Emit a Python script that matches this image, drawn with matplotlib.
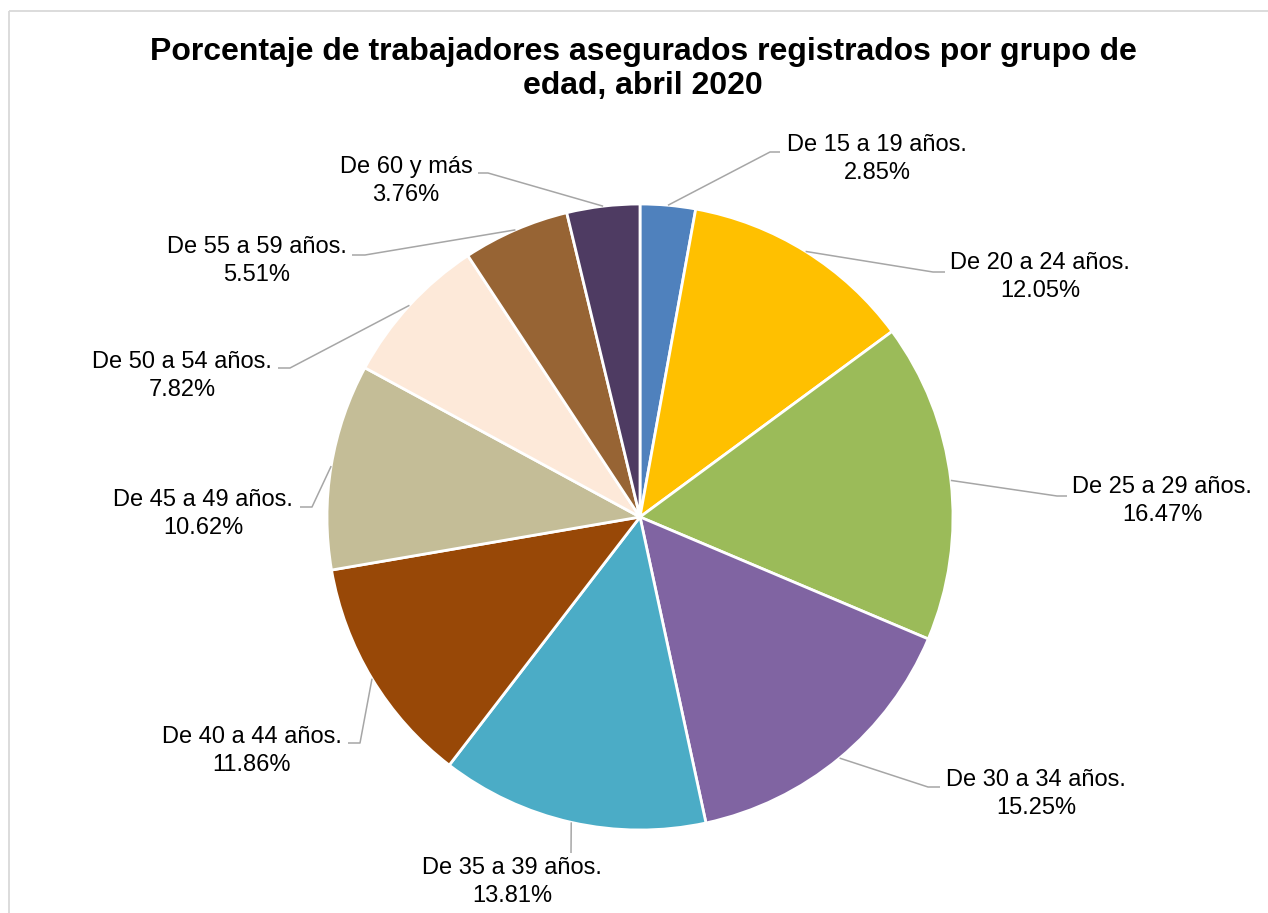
import matplotlib.pyplot as plt
import numpy as np
from matplotlib.patches import Rectangle

# data
grupos = ["De 15 a 19 años.", "De 20 a 24 años.", "De 25 a 29 años.", "De 30 a 34 años.",
          "De 35 a 39 años.", "De 40 a 44 años.", "De 45 a 49 años.", "De 50 a 54 años.",
          "De 55 a 59 años.", "De 60 y más"]
porcentajes = [2.85, 12.05, 16.47, 15.25, 13.81, 11.86, 10.62, 7.82, 5.51, 3.76]
colores = ["#4F81BD", "#FFC000", "#9BBB59", "#8064A2", "#4BACC6",
           "#984807", "#C4BD97", "#FDE9D9", "#976434", "#4E3B62"]

titulo = "Porcentaje de trabajadores asegurados registrados por grupo de\nedad, abril 2020"

# layout (pixel coords, y down): label center, leader elbow, end of the short horizontal tail
label_pos = [(877, 159), (1040, 277), (1162, 501), (1036, 794), (512, 882),
             (252, 751), (203, 514), (182, 376), (257, 261), (406, 181)]
elbow_pos = [(770, 152), (933, 272), (1057, 496), (928, 787), (571, 853),
             (360, 743), (312, 507), (290, 368), (365, 255), (488, 173)]
tail_x = [780, 945, 1067, 940, 571, 348, 300, 278, 352, 478]

W, H = 1268, 913
cx, cy, R = 640, 517, 313

plt.rcParams['font.family'] = ['Liberation Sans', 'DejaVu Sans']

fig = plt.figure(figsize=(W / 100, H / 100), dpi=100)
ax = fig.add_axes([0, 0, 1, 1])

wedges, _ = ax.pie(porcentajes, colors=colores, startangle=-90, counterclock=True,
                   center=(cx, cy), radius=R,
                   wedgeprops=dict(edgecolor='white', linewidth=2.0))

ax.set_xlim(0, W)
ax.set_ylim(H, 0)
ax.set_aspect('equal')
ax.axis('off')

gray = '#A6A6A6'
for w, name, val, lp, ep, tx in zip(wedges, grupos, porcentajes, label_pos, elbow_pos, tail_x):
    ang = np.deg2rad((w.theta1 + w.theta2) / 2)
    sx = cx + R * np.cos(ang)
    sy = cy + R * np.sin(ang)
    ax.plot([sx, ep[0], tx], [sy, ep[1], ep[1]], color=gray, lw=1.1,
            solid_capstyle='butt')
    ax.text(lp[0], lp[1], f"{name}\n{val:.2f}%", ha='center', va='center',
            fontsize=17, color='#000000', linespacing=1.32)

ax.text(643, 69, titulo, ha='center', va='center', fontsize=23.0,
        fontweight='bold', color='#000000', linespacing=1.2)

# chart frame (cut off at right and bottom)
ax.add_patch(Rectangle((9, 11), 1400, 1000, fill=False, edgecolor='#D9D9D9', lw=1.3))

fig.savefig('out.png', dpi=100)
